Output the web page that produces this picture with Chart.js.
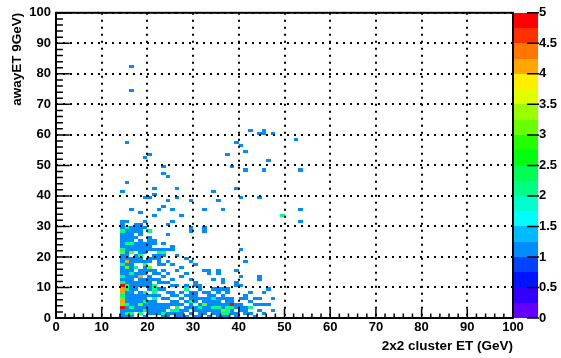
<!DOCTYPE html>
<html><head><meta charset="utf-8">
<script src="https://cdn.jsdelivr.net/npm/chart.js@4.4.1/dist/chart.umd.min.js"></script>
<style>html,body{margin:0;padding:0;background:#fff;}#wrap{width:561px;height:358px;}</style>
</head><body><div id="wrap"><canvas id="c" width="561" height="358"></canvas></div>
<script>
// ---- axis ticks and titles ----
const xTickValues = [0,10,20,30,40,50,60,70,80,90,100];
const yTickValues = [0,10,20,30,40,50,60,70,80,90,100];
const zTickValues = [0,0.5,1,1.5,2,2.5,3,3.5,4,4.5,5];
const xTitle = '2x2 cluster ET (GeV)';
const yTitle = 'awayET 9GeV)';

// ---- histogram cells: [x bin low edge, [y bin low edges]] grouped by bin content ----
const cells1 = [
  [14,[0,1,2,12,14,15,16,18,19,20,23,24,25,26,27,29,30,31,41]],
  [15,[0,2,3,5,6,7,8,11,12,13,14,15,17,19,20,21,22,23,25,26,27,28,31,44,57]],
  [16,[0,2,4,5,6,7,8,9,10,11,12,13,15,16,17,18,19,22,23,25,26,27,28,29,35,74,82]],
  [17,[2,3,4,5,6,7,9,10,11,13,14,18,19,20,22,23,24,26,28,29,30]],
  [18,[2,3,5,6,7,8,10,11,12,14,15,18,19,21,22,23,24,25,27,28,29,30,34]],
  [19,[0,3,4,6,7,10,11,12,14,15,16,18,21,22,23,24,29,31,39,52]],
  [20,[1,2,3,4,5,7,9,10,11,12,13,15,18,19,22,23,24,25,26,39,53]],
  [21,[1,2,3,4,5,7,12,14,15,19,20,22,24,25,33,40,42]],
  [22,[1,2,3,4,7,9,11,12,14,17,18,19,20,22,35]],
  [23,[0,2,3,4,6,9,11,13,15,17,20,22,24,36,47,49]],
  [24,[0,1,3,4,6,8,11,14,18,22,27,30,38,46]],
  [25,[1,4,5,7,8,10,12,17,22,23,31,35]],
  [26,[0,1,4,5,7,10,15,20,39,42]],
  [27,[0,1,2,4,6,8,13,16,33]],
  [28,[0,2,3,5,7,10,14,19]],
  [29,[1,3,4,6,7,8,12,18,28,29,38]],
  [30,[0,2,3,5,6,7,8,10,11,17]],
  [31,[0,1,2,4,6,9,10]],
  [32,[1,2,3,5,6,8,15,28,29,35]],
  [33,[0,2,3,4,5,6,7,8,14,15]],
  [34,[1,2,4,5,7,9,12,41]],
  [35,[0,1,2,4,5,6,8,9,14,15,38]],
  [36,[0,3,4,6,7,9,11,12,35]],
  [37,[0,4,5,6,8,9,53]],
  [38,[1,2,5,6,49]],
  [39,[0,1,3,4,10,11,15,42,57]],
  [40,[2,3,4,6,10,13,22,39,56]],
  [41,[1,2,3,6,7,18,48,54]],
  [42,[1,5,8,61]],
  [43,[0,4,6]],
  [44,[2,4,6,12,13,39,60]],
  [45,[1,4,8,48,60,61]],
  [46,[4,9,51]],
  [47,[2,6,60]],
  [52,[58]],
  [53,[31,35,48]]
];
const cells2 = [
  [14,[7,11,13,17,22,28]],
  [15,[1,4,9,10,24,29]],
  [16,[1,3,14,24]],
  [17,[16]],
  [18,[1,20]],
  [19,[2,5,8,17]],
  [20,[28]],
  [21,[6,8,9,10]],
  [22,[21]],
  [23,[1,21]],
  [25,[2]],
  [26,[2,3]],
  [28,[9]],
  [29,[5]],
  [31,[3]],
  [34,[3,6]],
  [35,[3]],
  [36,[1]],
  [37,[1,2,3]],
  [38,[3]],
  [42,[3]],
  [49,[33]]
];
const cells3 = [
  [14,[4,6,21]],
  [15,[16]],
  [16,[21]],
  [18,[4]],
  [20,[16]],
  [32,[4]],
  [36,[2]]
];
const cells4 = [
  [14,[5,8,9]],
  [15,[18]],
  [18,[13]]
];
const cells5 = [
  [14,[3,10]],
  [38,[4]]
];
const cellGroups = [cells1, cells2, cells3, cells4, cells5];
const groupCounts = [1, 2, 3, 4, 5];

// ---- ROOT-like palette (pretty palette, 20 contours) ----
const ZMIN = 0, ZMAX = 5, NCONT = 20;
function bandColor(k) {
  const idx = Math.floor((k + 0.99) * 50 / NCONT);
  const hue = 280 - (idx + 1) * 5.6;
  return 'hsl(' + hue + ',100%,50%)';
}
function valueColor(v) {
  let k = Math.floor(0.01 + (v - ZMIN) * NCONT / (ZMAX - ZMIN));
  if (k > NCONT - 1) k = NCONT - 1;
  return bandColor(k);
}

const datasets = cellGroups.map((g, i) => {
  const pts = [];
  g.forEach(([x, ys]) => ys.forEach(y => pts.push({x: x + 0.5, y: y + 0.5})));
  return {
    label: 'n=' + groupCounts[i],
    data: pts,
    backgroundColor: valueColor(groupCounts[i]),
    pointRadius: 0,
    pointHoverRadius: 0
  };
});

const FONT = 'Liberation Sans, Arial, Helvetica, sans-serif';

const heatPlugin = {
  id: 'heat',
  beforeDatasetsDraw(chart) {
    const {ctx, scales} = chart;
    const xs = scales.x, ys = scales.y, zs = scales.z;
    ctx.save();
    chart.data.datasets.forEach(ds => {
      ctx.fillStyle = ds.backgroundColor;
      ds.data.forEach(p => {
        const x0 = Math.round(xs.getPixelForValue(p.x - 0.5));
        const x1 = Math.round(xs.getPixelForValue(p.x + 0.5));
        const y0 = Math.round(ys.getPixelForValue(p.y + 0.5));
        const y1 = Math.round(ys.getPixelForValue(p.y - 0.5));
        ctx.fillRect(x0, y0, x1 - x0, y1 - y0);
      });
    });
    // colour bar
    const bl = zs.left + 1, br = zs.left + 25;
    for (let k = 0; k < NCONT; k++) {
      const v0 = ZMIN + k * (ZMAX - ZMIN) / NCONT;
      const v1 = ZMIN + (k + 1) * (ZMAX - ZMIN) / NCONT;
      const ya = Math.round(zs.getPixelForValue(v1));
      const yb = Math.round(zs.getPixelForValue(v0));
      ctx.fillStyle = bandColor(k);
      ctx.fillRect(bl, ya, br - bl, yb - ya);
    }
    ctx.restore();
  },
  afterDraw(chart) {
    const {ctx, chartArea: a, scales} = chart;
    const xs = scales.x, ys = scales.y, zs = scales.z;
    ctx.save();
    ctx.strokeStyle = '#000';
    ctx.lineWidth = 1.5;
    ctx.beginPath();
    for (let v = 0; v <= 100; v += 2) {
      const major = v % 10 === 0;
      const px = xs.getPixelForValue(v);
      ctx.moveTo(px, a.bottom);
      ctx.lineTo(px, a.bottom - (major ? 9.3 : 4.6));
      const py = ys.getPixelForValue(v);
      ctx.moveTo(a.left, py);
      ctx.lineTo(a.left + (major ? 13.7 : 6.9), py);
    }
    ctx.stroke();
    // frame
    ctx.lineWidth = 2;
    ctx.strokeRect(a.left, a.top, a.right - a.left, a.bottom - a.top);
    // colour bar ticks
    ctx.lineWidth = 1.5;
    ctx.beginPath();
    const br = zs.left + 25;
    zTickValues.forEach(v => {
      const py = zs.getPixelForValue(v);
      ctx.moveTo(br - 11, py);
      ctx.lineTo(br + 1, py);
    });
    ctx.stroke();
    ctx.restore();
  }
};

const tickFont = {family: FONT, size: 13, weight: 'bold'};
const titleFont = {family: FONT, size: 13.5, weight: 'bold'};
const plainNumber = v => String(Number(v));

new Chart(document.getElementById('c'), {
  type: 'scatter',
  data: {datasets},
  options: {
    responsive: false,
    devicePixelRatio: 1,
    animation: false,
    events: [],
    layout: {padding: {top: 9, left: 0, right: 0, bottom: 0}},
    plugins: {legend: {display: false}, tooltip: {enabled: false}},
    scales: {
      x: {
        type: 'linear', position: 'bottom', min: 0, max: 100,
        afterBuildTicks: s => { s.ticks = xTickValues.map(v => ({value: v})); },
        afterFit: s => { s.height = 40; },
        grid: {color: '#000', lineWidth: 2, drawTicks: false, z: 1},
        border: {display: false, dash: [2, 5]},
        ticks: {font: tickFont, color: '#000', padding: 2, maxRotation: 0, autoSkip: false, callback: plainNumber},
        title: {display: true, text: xTitle, align: 'end', font: titleFont, color: '#000', padding: {top: 0, bottom: 3.5}}
      },
      y: {
        type: 'linear', position: 'left', min: 0, max: 100,
        afterBuildTicks: s => { s.ticks = yTickValues.map(v => ({value: v})); },
        afterFit: s => { s.width = 56; },
        grid: {color: '#000', lineWidth: 2, drawTicks: false, z: 1},
        border: {display: false, dash: [2, 5]},
        ticks: {font: tickFont, color: '#000', padding: 5, autoSkip: false, callback: plainNumber},
        title: {display: true, text: yTitle, align: 'end', font: titleFont, color: '#000', padding: {top: 9, bottom: 0}}
      },
      z: {
        type: 'linear', position: 'right', min: ZMIN, max: ZMAX,
        afterBuildTicks: s => { s.ticks = zTickValues.map(v => ({value: v})); },
        afterFit: s => { s.width = 48; },
        grid: {display: false, drawOnChartArea: false, drawTicks: true, tickLength: 25},
        border: {display: false},
        ticks: {font: tickFont, color: '#000', padding: 1, autoSkip: false, callback: plainNumber}
      }
    }
  },
  plugins: [heatPlugin]
});
</script>
</body></html>
